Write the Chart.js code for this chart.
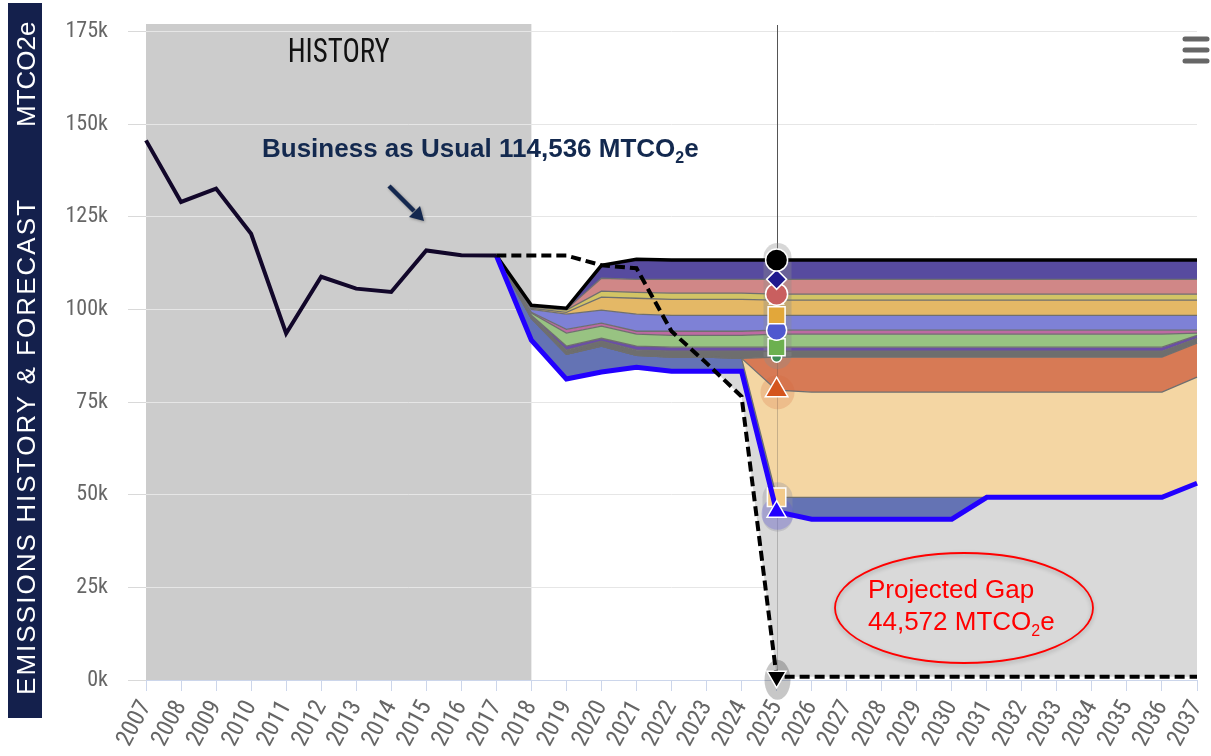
<!DOCTYPE html>
<html>
<head>
<meta charset="utf-8">
<script src="https://cdn.jsdelivr.net/npm/chart.js@4.4.1/dist/chart.umd.min.js"></script>
<style>
html,body{margin:0;padding:0;background:#ffffff;}
#wrap{width:1211px;height:756px;position:relative;}
</style>
</head>
<body>
<div id="wrap"><canvas id="c" width="1211" height="756"></canvas></div>
<script>
const n = null;
const years = ['2007','2008','2009','2010','2011','2012','2013','2014','2015','2016','2017','2018','2019','2020','2021','2022','2023','2024','2025','2026','2027','2028','2029','2030','2031','2032','2033','2034','2035','2036','2037'];
const yTickValues = [0, 25000, 50000, 75000, 100000, 125000, 150000, 175000];

// Historical emissions
const historyEmissions = [145600,129000,132600,120400,93500,108800,105600,104700,115900,114600,114536,n,n,n,n,n,n,n,n,n,n,n,n,n,n,n,n,n,n,n,n];
// Target / business-as-usual dashed path
const targetPath = [n,n,n,n,n,n,n,n,n,n,114536,114536,114536,111900,111100,94100,85500,76500,850,850,850,850,850,850,850,850,850,850,850,850,850];
// Projection with measures (blue line) and stacked reduction wedge boundaries
const withMeasures      = [n,n,n,n,n,n,n,n,n,n,114536,91700,81200,83100,84400,83300,83300,83300,45422,43400,43400,43400,43400,43400,49300,49300,49300,49300,49300,49300,53100];
const levelDarkBlueTop  = [n,n,n,n,n,n,n,n,n,n,114536,97600,87900,90100,87600,87100,87100,86800,49300,49300,49300,49300,49300,49300,49300,49300,49300,49300,49300,49300,53100];
const levelPeachTop     = [n,n,n,n,n,n,n,n,n,n,114536,97600,87900,90100,87600,87100,87100,86800,78200,77700,77700,77700,77700,77700,77700,77700,77700,77700,77700,77700,81700];
const levelOrangeTop    = [n,n,n,n,n,n,n,n,n,n,114536,97600,87900,90100,87600,87100,87100,86800,87100,87100,87100,87100,87100,87100,87100,87100,87100,87100,87100,87100,90900];
const levelGrayTop      = [n,n,n,n,n,n,n,n,n,n,114536,98200,89000,91400,89000,88700,88700,88700,88700,88700,88700,88700,88700,88700,88700,88700,88700,88700,88700,88700,92200];
const levelPurpleTop    = [n,n,n,n,n,n,n,n,n,n,114536,98400,90100,92200,90100,89800,89800,89800,89800,89800,89800,89800,89800,89800,89800,89800,89800,89800,89800,89800,93000];
const levelGreenTop     = [n,n,n,n,n,n,n,n,n,n,114536,99000,93600,95500,93300,93000,93000,93000,93300,93300,93300,93300,93300,93300,93300,93300,93300,93300,93300,93300,93600];
const levelMagentaTop   = [n,n,n,n,n,n,n,n,n,n,114536,99200,94600,96300,94100,94100,94100,94100,94400,94400,94400,94400,94400,94400,94400,94400,94400,94400,94400,94400,94400];
const levelLavenderTop  = [n,n,n,n,n,n,n,n,n,n,114536,100000,98700,99800,98700,98400,98400,98400,98400,98400,98400,98400,98400,98400,98400,98400,98400,98400,98400,98400,98400];
const levelGoldTop      = [n,n,n,n,n,n,n,n,n,n,114536,100300,99200,103300,103000,102700,102700,102700,102500,102500,102500,102500,102500,102500,102500,102500,102500,102500,102500,102500,102500];
const levelYellowTop    = [n,n,n,n,n,n,n,n,n,n,114536,100600,99800,104900,104600,104400,104400,104400,104100,104100,104100,104100,104100,104100,104100,104100,104100,104100,104100,104100,104100];
const levelPinkTop      = [n,n,n,n,n,n,n,n,n,n,114536,100900,100000,108400,108100,108100,108100,108100,108100,108100,108100,108100,108100,108100,108100,108100,108100,108100,108100,108100,108100];
const totalEmissions    = [n,n,n,n,n,n,n,n,n,n,114536,101100,100300,111900,113500,113300,113300,113300,113300,113300,113300,113300,113300,113300,113300,113300,113300,113300,113300,113300,113300];

const hoverIndex = years.indexOf('2025');
const historyEndIndex = years.indexOf('2018');
const NARROW = '"Liberation Sans Narrow", "Arial Narrow", "Roboto Condensed", "Liberation Sans", sans-serif';
const SANS = '"Liberation Sans", Arial, Helvetica, sans-serif';

function markerRadius(r) { return ctx => ctx.dataIndex === hoverIndex ? r : 0; }

// bands: [data, fill colour of band above, marker style, marker colour, marker radius]
const bands = [
  [levelDarkBlueTop, '#f4d6a3', 'rect', '#f2ca8a', 13],
  [levelPeachTop,    '#d77a55', 'triangle', '#d4551e', 13],
  [levelOrangeTop,   '#6e6e6e', 'circle', '#3f8c56', 5],
  [levelGrayTop,     '#6a4ea6', 'triangle', '#8b5dc4', 4],
  [levelPurpleTop,   '#98c382', 'rect', '#6cb04f', 12],
  [levelGreenTop,    '#bd6aa2', 'triangle', '#e07b39', 4],
  [levelMagentaTop,  '#7e81d6', 'circle', '#4f58cf', 10],
  [levelLavenderTop, '#e4b866', 'rect', '#e2a73a', 12],
  [levelGoldTop,     '#d2c465', 'triangle', '#b9a236', 8],
  [levelYellowTop,   '#d08787', 'circle', '#c95f5f', 11],
  [levelPinkTop,     '#574b9f', 'rectRot', '#1f1a8e', 10]
];

const datasets = [
  {
    label: 'Target', data: targetPath, order: 0,
    borderColor: '#000', borderWidth: 4, borderDash: [10, 5],
    fill: {target: 2, above: 'rgba(0,0,0,0)', below: '#d9d9d9'},
    pointStyle: 'triangle', rotation: 180, pointRadius: markerRadius(11),
    pointBackgroundColor: '#000', pointBorderColor: '#fff', pointBorderWidth: 1.5, clip: 30
  },
  {
    label: 'History', data: historyEmissions, order: 1,
    borderColor: '#12072a', borderWidth: 4, fill: false, pointRadius: 0, clip: 10
  },
  {
    label: 'With measures', data: withMeasures, order: 2,
    borderColor: '#2200ff', borderWidth: 5, backgroundColor: '#6473b4', fill: '+1',
    pointStyle: 'triangle', pointRadius: markerRadius(11),
    pointBackgroundColor: '#2200ff', pointBorderColor: '#fff', pointBorderWidth: 1.5, clip: 30
  }
];
bands.forEach((b, i) => {
  datasets.push({
    label: 'Level ' + (i + 1), data: b[0], order: 14 - i,
    borderColor: '#6f6f6f', borderWidth: 1.3,
    backgroundColor: b[1], fill: '+1',
    pointStyle: b[2], pointRadius: markerRadius(b[4]),
    pointBackgroundColor: b[3], pointBorderColor: '#fff', pointBorderWidth: 1.5, clip: 30
  });
});
datasets.push({
  label: 'Total', data: totalEmissions, order: 3,
  borderColor: '#000', borderWidth: 3.5, fill: false,
  pointStyle: 'circle', pointRadius: markerRadius(11),
  pointBackgroundColor: '#000', pointBorderColor: '#fff', pointBorderWidth: 1.5, clip: 30
});

function capsule(ctx, cx, y0, y1, hw, color) {
  ctx.fillStyle = color;
  ctx.beginPath();
  ctx.arc(cx, y0 + hw, hw, Math.PI, 0);
  ctx.arc(cx, y1 - hw, hw, 0, Math.PI);
  ctx.closePath();
  ctx.fill();
}

const backgroundPlugin = {
  id: 'backgroundPlugin',
  beforeDraw(chart) {
    const {ctx, chartArea, scales: {x}} = chart;
    ctx.save();
    const x0 = x.getPixelForValue(0), x1 = x.getPixelForValue(historyEndIndex);
    ctx.fillStyle = '#cccccc';
    ctx.fillRect(x0, chartArea.top, x1 - x0, chartArea.bottom - chartArea.top);
    // HISTORY label (condensed to the original width)
    ctx.fillStyle = '#111111';
    ctx.font = '34px ' + NARROW;
    ctx.textAlign = 'center';
    ctx.textBaseline = 'alphabetic';
    const hw = ctx.measureText('HISTORY').width;
    ctx.save();
    ctx.translate((x0 + x1) / 2, 62);
    ctx.scale(Math.min(1, 102 / hw), 1);
    ctx.fillText('HISTORY', 0, 0);
    ctx.restore();
    // side title bar
    ctx.fillStyle = '#14204c';
    ctx.fillRect(8, 3, 34, 715);
    ctx.fillStyle = '#ffffff';
    ctx.font = '26px ' + SANS;
    ctx.textAlign = 'left';
    const t1 = 'EMISSIONS HISTORY & FORECAST';
    const w1 = ctx.measureText(t1).width;
    ctx.save();
    ctx.translate(34.5, 695);
    ctx.rotate(-Math.PI / 2);
    if ('letterSpacing' in ctx) ctx.letterSpacing = Math.max(0, (497 - w1) / 28).toFixed(2) + 'px';
    ctx.fillText(t1, 0, 0);
    ctx.restore();
    ctx.save();
    ctx.translate(34.5, 127);
    ctx.rotate(-Math.PI / 2);
    ctx.fillText('MTCO2e', 0, 0);
    ctx.restore();
    ctx.restore();
  }
};

const overlayPlugin = {
  id: 'overlayPlugin',
  beforeDatasetsDraw(chart) {
    const {ctx, chartArea, scales: {x, y}} = chart;
    const px = Math.round(x.getPixelForValue(hoverIndex)) + 0.5;
    const yTot = y.getPixelForValue(totalEmissions[hoverIndex]);
    ctx.save();
    ctx.lineWidth = 1;
    ctx.strokeStyle = '#555';
    ctx.beginPath(); ctx.moveTo(px, chartArea.top + 1); ctx.lineTo(px, yTot); ctx.stroke();
    ctx.strokeStyle = 'rgba(60,60,60,0.25)';
    ctx.beginPath(); ctx.moveTo(px, yTot); ctx.lineTo(px, chartArea.bottom); ctx.stroke();
    // hover halos
    capsule(ctx, px, yTot - 17, y.getPixelForValue(levelOrangeTop[hoverIndex]) + 12, 14, 'rgba(140,140,140,0.35)');
    ctx.fillStyle = 'rgba(215,100,55,0.22)';
    ctx.beginPath(); ctx.arc(px, y.getPixelForValue(levelPeachTop[hoverIndex]) + 2, 17, 0, Math.PI * 2); ctx.fill();
    capsule(ctx, px, y.getPixelForValue(levelDarkBlueTop[hoverIndex]) - 15, y.getPixelForValue(withMeasures[hoverIndex]) + 20, 15, 'rgba(150,150,160,0.35)');
    ctx.fillStyle = 'rgba(80,70,235,0.25)';
    ctx.beginPath(); ctx.arc(px, y.getPixelForValue(withMeasures[hoverIndex]) + 2, 16, 0, Math.PI * 2); ctx.fill();
    ctx.fillStyle = 'rgba(0,0,0,0.22)';
    ctx.beginPath(); ctx.ellipse(px, y.getPixelForValue(targetPath[hoverIndex]) + 3, 13, 20, 0, 0, Math.PI * 2); ctx.fill();
    ctx.restore();
  }
};

function drawSubText(ctx, parts, x, y, size, weight, color) {
  ctx.fillStyle = color;
  ctx.textAlign = 'left';
  ctx.textBaseline = 'alphabetic';
  let cx = x;
  parts.forEach(p => {
    const sub = p[1];
    ctx.font = weight + ' ' + (sub ? Math.round(size * 0.62) : size) + 'px ' + SANS;
    ctx.fillText(p[0], cx, y + (sub ? size * 0.24 : 0));
    cx += ctx.measureText(p[0]).width;
  });
}

const annotationPlugin = {
  id: 'annotationPlugin',
  afterDraw(chart) {
    const {ctx} = chart;
    ctx.save();
    drawSubText(ctx, [['Business as Usual 114,536 MTCO', false], ['2', true], ['e', false]], 262, 157, 26, 'bold', '#13294f');
    // arrow
    ctx.shadowColor = 'rgba(0,0,0,0.35)';
    ctx.shadowBlur = 3; ctx.shadowOffsetX = 1; ctx.shadowOffsetY = 1;
    ctx.strokeStyle = '#14284f'; ctx.fillStyle = '#14284f';
    ctx.lineWidth = 4.5;
    ctx.beginPath(); ctx.moveTo(389, 186); ctx.lineTo(414, 211); ctx.stroke();
    ctx.beginPath(); ctx.moveTo(424, 221); ctx.lineTo(409, 217); ctx.lineTo(420, 206); ctx.closePath(); ctx.fill();
    // ellipse
    ctx.shadowColor = 'rgba(0,0,0,0.25)';
    ctx.shadowBlur = 4; ctx.shadowOffsetX = 0; ctx.shadowOffsetY = 2;
    ctx.strokeStyle = '#ff0000'; ctx.lineWidth = 1.8;
    ctx.beginPath(); ctx.ellipse(964, 608, 129, 55, 0, 0, Math.PI * 2); ctx.stroke();
    ctx.shadowColor = 'rgba(0,0,0,0)';
    drawSubText(ctx, [['Projected Gap', false]], 868, 598, 26, 'normal', '#ff0000');
    drawSubText(ctx, [['44,572 MTCO', false], ['2', true], ['e', false]], 868, 630, 26, 'normal', '#ff0000');
    // menu icon
    ctx.strokeStyle = '#666'; ctx.lineWidth = 5; ctx.lineCap = 'round';
    [39, 50, 61].forEach(yy => { ctx.beginPath(); ctx.moveTo(1185, yy); ctx.lineTo(1207, yy); ctx.stroke(); });
    ctx.restore();
  }
};

new Chart(document.getElementById('c'), {
  type: 'line',
  data: {labels: years, datasets},
  options: {
    responsive: false,
    animation: false,
    events: [],
    layout: {padding: {top: 24, right: 14, left: 0, bottom: 0}},
    elements: {line: {tension: 0}},
    plugins: {
      legend: {display: false},
      tooltip: {enabled: false},
      filler: {drawTime: 'beforeDatasetsDraw', propagate: false}
    },
    scales: {
      x: {
        type: 'category',
        offset: false,
        grid: {display: true, drawOnChartArea: false, drawTicks: true, tickLength: 11, tickColor: '#ccd6eb', lineWidth: 1},
        border: {display: true, color: '#ccd6eb', width: 1},
        ticks: {autoSkip: false, minRotation: 62, maxRotation: 62, padding: 5, color: '#666', font: {family: NARROW, size: 24}},
        afterFit(scale) { scale.height = 76; scale.paddingLeft = 0; scale.paddingRight = 0; }
      },
      y: {
        min: 0, max: 177000,
        grid: {color: '#e6e6e6', lineWidth: 1, drawTicks: true, tickLength: 18, tickColor: '#d9d9d9'},
        border: {display: false},
        afterBuildTicks(scale) { scale.ticks = yTickValues.map(v => ({value: v})); },
        ticks: {padding: 20, color: '#666', font: {family: NARROW, size: 22}, callback: v => (v / 1000) + 'k'},
        afterFit(scale) { scale.width = 146; scale.paddingTop = 0; scale.paddingBottom = 0; }
      }
    }
  },
  plugins: [backgroundPlugin, overlayPlugin, annotationPlugin]
});
</script>
</body>
</html>
